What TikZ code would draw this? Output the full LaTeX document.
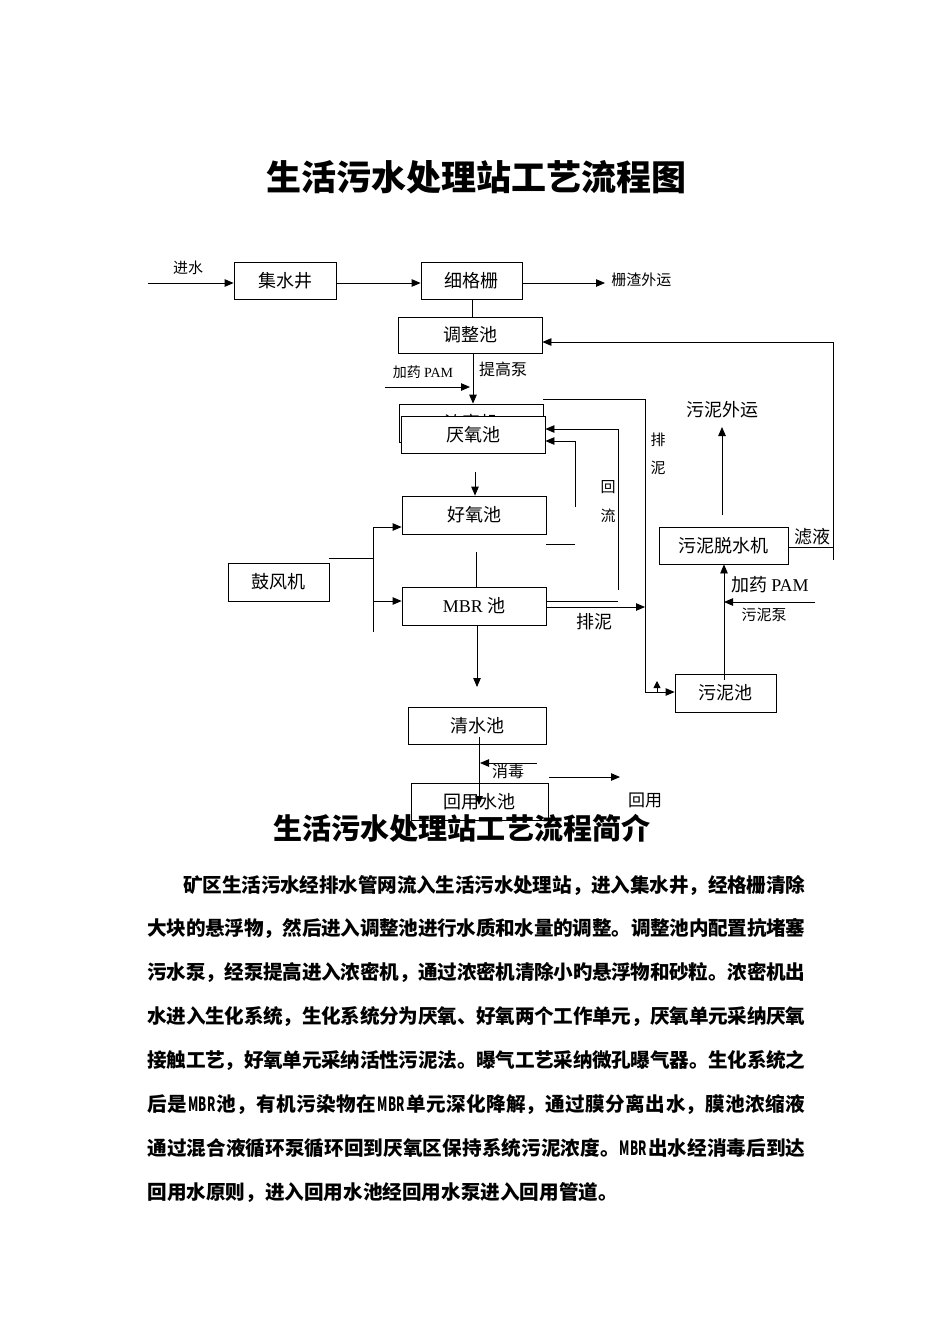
\documentclass[tikz,border=0pt]{standalone}
\usepackage{fontspec}
\usepackage{graphicx}
\setmainfont{Liberation Serif}
\newfontfamily\cjk{Noto Sans CJK SC}
\usetikzlibrary{arrows.meta}
\XeTeXlinebreaklocale "zh"
\XeTeXlinebreakskip=0pt plus 1.5pt minus 0.5pt
\newcommand\mbrtxt{\kern1.5pt\scalebox{0.6}[1]{MBR}\kern1.5pt}
\begin{document}
\begin{tikzpicture}[x=1pt,y=-1pt,line width=0.8pt,
  box/.style={draw,fill=white,inner sep=0pt,font=\cjk\fontsize{18}{20}\selectfont},
  lab/.style={inner sep=0pt,font=\cjk\fontsize{15}{18}\selectfont},
  labb/.style={inner sep=0pt,font=\cjk\fontsize{18}{20}\selectfont},
  arr/.style={-{Triangle[length=9pt,width=7.5pt]}}]
\fill[white] (0,0) rectangle (950,1344);
\useasboundingbox (0,0) rectangle (950,1344);

% titles
\node[font=\cjk\bfseries\fontsize{35}{40}\selectfont] (title) at (476,177) {生活污水处理站工艺流程图};

% boxes
\node[box,minimum width=102pt,minimum height=37pt] (jsj) at (285,280.5) {集水井};
\node[box,minimum width=101pt,minimum height=37pt] (xgs) at (471.5,280.5) {细格栅};
\node[box,minimum width=144pt,minimum height=36pt] (tzc) at (470,335) {调整池};
\node[box,minimum width=144pt,minimum height=38pt] (nmj) at (471,423) {浓密机};
\node[box,minimum width=144pt,minimum height=37pt] (yyc) at (473,434.5) {厌氧池};
\node[box,minimum width=144pt,minimum height=38pt] (hyc) at (474,515) {好氧池};
\node[box,minimum width=144pt,minimum height=38pt] (mbr) at (474,606) {{\rmfamily MBR} 池};
\node[box,minimum width=101pt,minimum height=38pt] (gfj) at (278.5,582) {鼓风机};
\node[box,minimum width=138pt,minimum height=37pt] (qsc) at (477,725.5) {清水池};
\node[box,minimum width=137pt,minimum height=37pt] (hys) at (479.5,801.5) {回用水池};
\node[box,minimum width=129pt,minimum height=37pt] (wnt) at (723.5,545.5) {污泥脱水机};
\node[box,minimum width=101pt,minimum height=38pt] (wnc) at (725.5,693) {污泥池};

% labels
\node[lab] (ljs) at (188,268) {进水};
\node[lab,anchor=west] (lzz) at (611,280) {栅渣外运};
\node[lab,font=\cjk\fontsize{16}{18}\selectfont] (ltg) at (503,369) {提高泵};
\node[lab,font=\cjk\fontsize{14}{16}\selectfont] (lpam1) at (423,372) {加药 {\rmfamily PAM}};
\node[labb] (lwy) at (722,410) {污泥外运};
\node[lab] (lp1) at (658,440) {排};
\node[lab] (lp2) at (658,468) {泥};
\node[lab] (lh1) at (608,487) {回};
\node[lab] (lh2) at (608,516) {流};
\node[labb] (lpn) at (594,622) {排泥};
\node[labb] (lly) at (812,537) {滤液};
\node[labb] (lpam2) at (770,585) {加药 {\rmfamily PAM}};
\node[lab] (lwb) at (764,615) {污泥泵};
\node[lab,font=\cjk\fontsize{16}{18}\selectfont] (lxd) at (508,771) {消毒};
\node[lab,font=\cjk\fontsize{17}{19}\selectfont] (lhy) at (645,800) {回用};

% coordinates
\coordinate (in) at (148,283);
\coordinate (zz) at (605,283);
\coordinate (pamA) at (385,387);
\coordinate (pamB) at (470,387);
\coordinate (rb) at (833,560);
\coordinate (rt) at (833,342);
\coordinate (lye) at (833,547);
\coordinate (pn1) at (645,399);
\coordinate (pn2) at (645,692);
\coordinate (sa1) at (657,692);
\coordinate (sa2) at (657,681);
\coordinate (hl1) at (618,590);
\coordinate (hl1t) at (618,429);
\coordinate (hl2) at (575,507);
\coordinate (hl2t) at (575,441);
\coordinate (sl) at (575,544);
\coordinate (m1) at (618,601);
\coordinate (m2) at (645,607);
\coordinate (a1) at (475,472);
\coordinate (a2) at (476,552);
\coordinate (a3) at (477,687);
\coordinate (g1) at (373,558);
\coordinate (g2) at (373,527);
\coordinate (g3) at (373,632);
\coordinate (g4) at (373,601);
\coordinate (c1) at (479,737);
\coordinate (c2) at (479,805);
\coordinate (x1) at (537,763);
\coordinate (x2) at (480,763);
\coordinate (h1) at (549,777);
\coordinate (h2) at (620,777);
\coordinate (wy0) at (722,515);
\coordinate (wy) at (722,427);
\coordinate (wc) at (724,680);
\coordinate (sp) at (815,602);

% connectors
\draw[arr] (in) -- (in -| jsj.west);
\draw[arr] (jsj.east |- in) -- (xgs.west |- in);
\draw[arr] (xgs.east |- in) -- (zz);
\draw ([xshift=0.5pt]xgs.south) -- ([xshift=2pt]tzc.north);
\draw[arr] ([xshift=3pt]tzc.south) -- ([xshift=2pt]nmj.north);
\draw[arr] (pamA) -- (pamB);
\draw[arr] (rb) -- (rt) -- (rt -| tzc.east);
\draw (lye -| wnt.east) -- (lye);
\draw[arr] (pn1 -| nmj.east) -- (pn1) -- (pn2) -- (pn2 -| wnc.west);
\draw[-{Triangle[length=7pt,width=7pt]}] (sa1) -- (sa2);
\draw[arr] (hl1) -- (hl1t) -- (hl1t -| yyc.east);
\draw[arr] (hl2) -- (hl2t) -- (hl2t -| yyc.east);
\draw (sl -| hyc.east) -- (sl);
\draw (m1 -| mbr.east) -- (m1);
\draw[arr] (m2 -| mbr.east) -- (m2);
\draw[arr] (a1) -- (a1 |- hyc.north);
\draw (a2) -- (a2 |- mbr.north);
\draw[arr] (a3 |- mbr.south) -- (a3);
\draw (gfj.east |- g1) -- (g1);
\draw (g2) -- (g3);
\draw[arr] (g2) -- (g2 -| hyc.west);
\draw[arr] (g4) -- (g4 -| mbr.west);
\draw[arr] (c1) -- (c2);
\draw[arr] (x1) -- (x2);
\draw[arr] (h1) -- (h2);
\draw[arr] (wy0) -- (wy);
\draw[arr] (wc) -- (wc |- wnt.south);
\draw[arr] (sp) -- (sp -| wc);

% second heading and text
\node[font=\cjk\bfseries\fontsize{29}{32}\selectfont] (title2) at (462,828) {生活污水处理站工艺流程简介};
\node[anchor=base west,text width=658pt,align=justify,inner sep=0pt,
  font=\cjk\bfseries\fontsize{19.6}{43.9}\selectfont] (para) at (147,892)
{\hspace*{36pt}矿区生活污水经排水管网流入生活污水处理站，进入集水井，经格栅清除\linebreak
大块的悬浮物，然后进入调整池进行水质和水量的调整。调整池内配置抗堵塞\linebreak
污水泵，经泵提高进入浓密机，通过浓密机清除小旳悬浮物和砂粒。浓密机出\linebreak
水进入生化系统，生化系统分为厌氧、好氧两个工作单元，厌氧单元采纳厌氧\linebreak
接触工艺，好氧单元采纳活性污泥法。曝气工艺采纳微孔曝气器。生化系统之\linebreak
后是\mbrtxt 池，有机污染物在\mbrtxt 单元深化降解，通过膜分离出水，膜池浓缩液\linebreak
通过混合液循环泵循环回到厌氧区保持系统污泥浓度。\scalebox{0.6}[1]{MBR}\kern1.5pt 出水经消毒后到达\linebreak
回用水原则，进入回用水池经回用水泵进入回用管道。};
\end{tikzpicture}
\end{document}
